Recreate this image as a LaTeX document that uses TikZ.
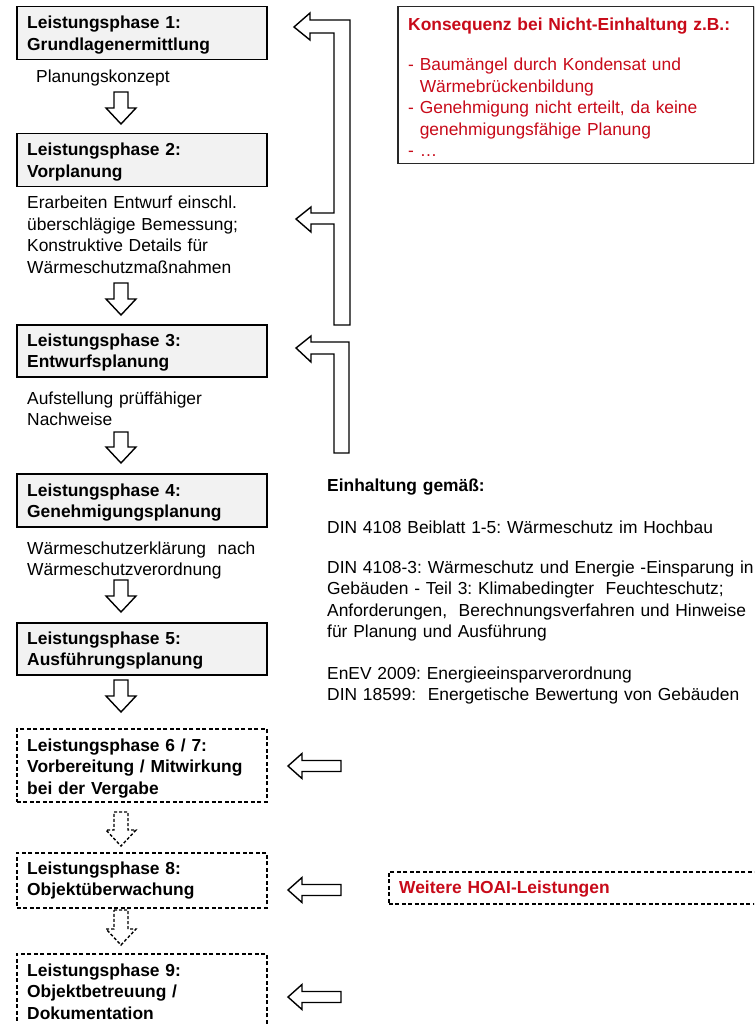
\documentclass[tikz,border=0pt]{standalone}
\usepackage{fontspec}
\setmainfont{Liberation Sans}
\frenchspacing
\definecolor{boxgray}{RGB}{242,242,242}
\definecolor{konsred}{RGB}{200,10,25}
\definecolor{rimgray}{RGB}{40,40,40}
\newcommand\blockdown[4]{%
  \draw[#4] (#1-7,#2) -- (#1+7,#2) -- (#1+7,#3-16) -- (#1+15,#3-16) -- (#1,#3)
    -- (#1-15,#3-16) -- (#1-7,#3-16) -- cycle;}
\newcommand\blockleft[2]{%
  \draw[blockarr] (288,#1) -- (302,#1-12.5) -- (302,#1-5.5) -- (341,#1-5.5)
    -- (341,#1+5.5) -- (302,#1+5.5) -- (302,#1+12.5) -- cycle;}
\begin{document}
\begin{tikzpicture}[x=1pt,y=-1pt,
  every node/.style={font=\fontsize{17.4}{21.5}\selectfont\frenchspacing},
  phase/.style={draw=black, line width=1.5pt, fill=boxgray, minimum width=250pt,
    anchor=north west, inner sep=0pt},
  dphase/.style={draw=black, line width=1.5pt, dash pattern=on 4pt off 2.5pt,
    minimum width=250pt, anchor=north west, inner sep=0pt},
  txt/.style={anchor=base west, inner sep=0pt, align=left, text width=#1},
  txt/.default=240pt,
  bold/.style={font=\fontsize{17.4}{21.5}\selectfont\frenchspacing\bfseries},
  blockarr/.style={draw=black, line width=1.4pt, fill=white, line join=miter},
  dblockarr/.style={blockarr, dash pattern=on 3pt off 2pt},
]
\clip (0,0) rectangle (754,1024);
\fill[white] (0,0) rectangle (754,1024);

% phase boxes
\node[phase, minimum height=53pt] (b1) at (16,6) {};
\node[phase, minimum height=53pt] (b2) at (16,133) {};
\node[phase, minimum height=52pt] (b3) at (16,324) {};
\node[phase, minimum height=53pt] (b4) at (16,473) {};
\node[phase, minimum height=52pt] (b5) at (16,622) {};
\node[dphase, minimum height=73pt] (b6) at (16,728) {};
\node[dphase, minimum height=55pt] (b8) at (16,852) {};
\node[dphase, minimum height=80pt] (b9) at (16,953) {};

\node[txt, bold] (t1) at (27,29) {Leistungsphase 1:\\Grundlagenermittlung};
\node[txt, bold] (t2) at (27,156) {Leistungsphase 2:\\Vorplanung};
\node[txt, bold] (t3) at (27,346) {Leistungsphase 3:\\Entwurfsplanung};
\node[txt, bold] (t4) at (27,496) {Leistungsphase 4:\\Genehmigungsplanung};
\node[txt, bold] (t5) at (27,644) {Leistungsphase 5:\\Ausführungsplanung};
\node[txt, bold] (t6) at (27,751) {Leistungsphase 6 / 7:\\Vorbereitung / Mitwirkung\\bei der Vergabe};
\node[txt, bold] (t8) at (27,874) {Leistungsphase 8:\\Objektüberwachung};
\node[txt, bold] (t9) at (27,976) {Leistungsphase 9:\\Objektbetreuung /\\Dokumentation};

% texts between boxes
\node[txt] (l1) at (36,83) {Planungskonzept};
\node[txt] (l2) at (27,209) {Erarbeiten Entwurf einschl.\\überschlägige Bemessung;\\Konstruktive Details für\\Wärmeschutzmaßnahmen};
\node[txt] (l3) at (27,404) {Aufstellung prüffähiger\\Nachweise};
\node[txt,text width=260pt] (l4) at (27,554) {Wärmeschutzerklärung\ \ nach\\Wärmeschutzverordnung};

% down arrows
\blockdown{121}{92}{124}{blockarr}
\blockdown{121}{283}{315}{blockarr}
\blockdown{121}{432}{463}{blockarr}
\blockdown{121}{580}{612}{blockarr}
\blockdown{121}{680}{712}{blockarr}
\blockdown{121}{812}{846}{dblockarr}
\blockdown{121}{910}{945}{dblockarr}

% return arrows
\draw[blockarr] (294,27) -- (310,13) -- (310,20) -- (350,20) -- (350,325) -- (334,325)
  -- (334,224) -- (311,224) -- (311,232) -- (296,219) -- (311,207) -- (311,213)
  -- (334,213) -- (334,33) -- (310,33) -- (310,40) -- cycle;
\draw[blockarr] (296,348) -- (311,336) -- (311,342) -- (349,342) -- (349,453)
  -- (334,453) -- (334,354) -- (311,354) -- (311,362) -- cycle;

% consequence box
\fill[black!75] (398.5,7.5) rectangle (754.5,164.5);
\node[draw=rimgray, line width=1.5pt, fill=white, anchor=north west, inner sep=0pt,
  minimum width=356pt, minimum height=157pt] (kons) at (397,6) {};
\node[txt=340pt, text=konsred, bold] (kt) at (408,31) {Konsequenz bei Nicht-Einhaltung z.B.:};
\node[txt=340pt, text=konsred] (k1) at (408,71) {- Baumängel durch Kondensat und\\\hphantom{- }Wärmebrückenbildung\\- Genehmigung nicht erteilt, da keine\\\hphantom{- }genehmigungsfähige Planung\\- \dots};

% norms text
\node[txt=430pt, bold] (nt) at (327,491) {Einhaltung gemäß:};
\node[txt=430pt] (n1) at (327,533) {DIN 4108 Beiblatt 1-5: Wärmeschutz im Hochbau};
\node[txt=430pt] (n2) at (327,573) {DIN 4108-3: Wärmeschutz und Energie -Einsparung in\\Gebäuden - Teil 3: Klimabedingter\ \ Feuchteschutz;\\Anforderungen,\ \ Berechnungsverfahren und Hinweise\\für Planung und Ausführung};
\node[txt=430pt] (n3) at (327,679) {EnEV 2009: Energieeinsparverordnung\\DIN 18599:\ \ Energetische Bewertung von Gebäuden};

% small left arrows
\blockleft{766}{}
\blockleft{890}{}
\blockleft{997}{}

% HOAI box
\node[draw=black, line width=1.5pt, dash pattern=on 4pt off 2.5pt, anchor=north west,
  inner sep=0pt, minimum width=380pt, minimum height=32pt] (hoai) at (388,871) {};
\node[txt=340pt, text=konsred, bold] (ht) at (399,893) {Weitere HOAI-Leistungen};
\end{tikzpicture}
\end{document}
